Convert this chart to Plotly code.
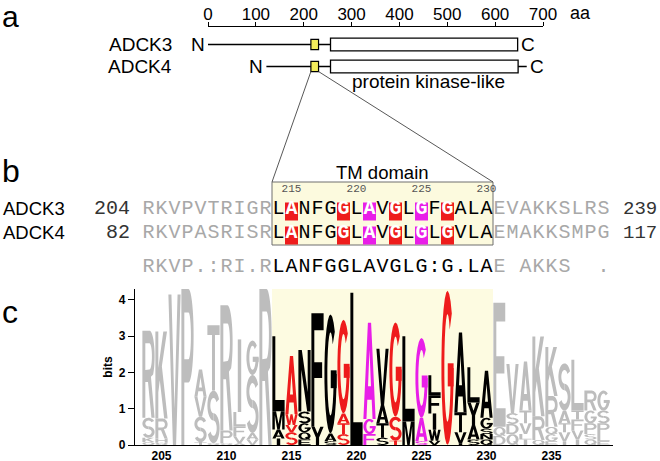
import math
import plotly.graph_objects as go

W, H = 660, 461

# ---------------- data ----------------
proteins = ['ADCK3', 'ADCK4']
prot_length = [647, 544]
prot_offset = [0, 122]            # ADCK4 shifted so the TM domains line up
tm_start = [215, 93]
tm_end = [231, 109]
kinase_start = [256, 134]
kinase_end = [647, 526]
ruler_ticks = [0, 100, 200, 300, 400, 500, 600, 700]

seq_start = [204, 82]
seq_end = [239, 117]
seq_rows = ['RKVPVTRIGRLANFGGLAVGLGFGALAEVAKKSLRS',
            'RKVPASRISRLANFGGLAVGLGLGVLAEMAKKSMPG']
consensus = 'RKVP.:RI.RLANFGGLAVGLG:G.LAE AKKS  .'
tm_first, tm_last = 214, 230
pos_labels = [215, 220, 225, 230]
highlight = {215: 'red', 219: 'red', 221: 'magenta', 223: 'red', 225: 'magenta', 227: 'red'}

logo_pos = list(range(204, 240))
logo_letters = ['QKSR', 'QHRK', 'V', 'P', 'TSVA', 'QST', 'QPR', 'AVFLI', 'VASG', 'R',
                'IAML', 'SVWA', 'EQGSN', 'YF', 'SAG', 'STAG', 'L', 'FGA', 'STAV', 'TSG',
                'ML', 'SAG', 'VWIFL', 'G', 'IVTA', 'SAYL', 'QNSGA',
                'DQE', 'QDSV', 'ILVTA', 'QRK', 'EGQRK', 'IVTAS', 'IVFTL', 'QSPGR', 'ELPSG']
logo_bits = [[0.08, 0.12, 0.55, 2.4], [0.06, 0.12, 0.55, 2.4], [4.15], [4.3],
             [0.08, 0.7, 0.55, 0.75], [0.05, 1.45, 1.8], [0.05, 0.35, 3.45],
             [0.05, 0.18, 0.28, 0.4, 2.0], [0.15, 0.18, 1.6, 0.95], [4.3],
             [0.18, 0.25, 0.5, 2.07], [0.35, 0.2, 0.3, 1.6], [0.15, 0.2, 0.25, 0.32, 1.7],
             [0.5, 3.13], [0.1, 0.22, 3.28], [0.3, 0.3, 0.27, 2.58], [4.2], [0.3, 0.42, 2.65],
             [0.2, 0.4, 0.5, 1.55], [0.12, 0.66, 2.6], [0.65, 2.35], [0.1, 0.65, 2.2],
             [0.12, 0.3, 0.45, 0.5, 0.55], [4.25], [0.05, 0.3, 0.55, 2.2],
             [0.15, 0.4, 0.62, 0.97], [0.15, 0.15, 0.15, 0.3, 1.3],
             [0.25, 0.25, 3.42], [0.3, 0.28, 0.3, 1.35], [0.15, 0.15, 0.3, 0.35, 1.35],
             [0.14, 0.65, 2.2], [0.1, 0.2, 0.2, 0.85, 1.35], [0.1, 0.25, 0.25, 0.35, 1.3],
             [0.15, 0.25, 0.3, 0.25, 1.4], [0.15, 0.15, 0.3, 0.35, 0.55],
             [0.1, 0.2, 0.3, 0.35, 0.55]]

RED, MAGENTA, GREY, TXTGREY = '#ee1c1c', '#e81ee8', '#bdbdbd', '#a8a8a8'
COLORS = {'red': RED, 'magenta': MAGENTA}


# ---------------- letter outlines (unit box) ----------------
def ell(cx, cy, rx, ry, a0, a1, n=22):
    return [(cx + rx * math.cos(math.radians(a0 + (a1 - a0) * k / n)),
             cy + ry * math.sin(math.radians(a0 + (a1 - a0) * k / n))) for k in range(n + 1)]


def band(cx, cy, rx, ry, tx, ty, a0, a1):
    return ell(cx, cy, rx, ry, a0, a1) + ell(cx, cy, rx - tx, ry - ty, a1, a0)


SX, SY = 0.24, 0.15
O_RING = [ell(0.5, 0.5, 0.5, 0.5, 0, 360), ell(0.5, 0.5, 0.26, 0.35, 0, 360)]
GLYPHS = {
    'A': [[[(0, 0), (0.25, 0), (0.32, 0.2), (0.68, 0.2), (0.75, 0), (1, 0), (0.63, 1), (0.37, 1)],
           [(0.38, 0.34), (0.62, 0.34), (0.5, 0.72)]]],
    'C': [[band(0.5, 0.5, 0.5, 0.5, SX, SY, 45, 315)]],
    'D': [[[(0, 0), (0.45, 0)] + ell(0.45, 0.5, 0.55, 0.5, -90, 90) + [(0, 1)],
           [(SX, SY), (0.45, SY)] + ell(0.45, 0.5, 0.31, 0.35, -90, 90) + [(SX, 1 - SY)]]],
    'E': [[[(0, 0), (1, 0), (1, SY), (SX, SY), (SX, 0.43), (0.9, 0.43), (0.9, 0.57), (SX, 0.57),
            (SX, 1 - SY), (0.97, 1 - SY), (0.97, 1), (0, 1)]]],
    'F': [[[(0, 0), (SX, 0), (SX, 0.43), (0.88, 0.43), (0.88, 0.57), (SX, 0.57),
            (SX, 1 - SY), (1, 1 - SY), (1, 1), (0, 1)]]],
    'G': [[band(0.5, 0.5, 0.5, 0.5, SX, SY, 45, 360)],
          [[(0.52, 0.38), (1, 0.38), (1, 0.53), (0.52, 0.53)]]],
    'H': [[[(0, 0), (SX, 0), (SX, 0.43), (1 - SX, 0.43), (1 - SX, 0), (1, 0), (1, 1), (1 - SX, 1),
            (1 - SX, 0.58), (SX, 0.58), (SX, 1), (0, 1)]]],
    'I': [[[(0.36, 0), (0.64, 0), (0.64, 1), (0.36, 1)]]],
    'K': [[[(0, 0), (SX, 0), (SX, 0.3), (0.36, 0.44), (0.72, 0), (1, 0), (0.53, 0.6), (0.95, 1),
            (0.65, 1), (SX, 0.58), (SX, 1), (0, 1)]]],
    'L': [[[(0, 0), (1, 0), (1, SY), (SX, SY), (SX, 1), (0, 1)]]],
    'M': [[[(0, 0), (0.2, 0), (0.2, 0.78), (0.4, 0), (0.6, 0), (0.8, 0.78), (0.8, 0), (1, 0),
            (1, 1), (0.7, 1), (0.5, 0.3), (0.3, 1), (0, 1)]]],
    'N': [[[(0, 0), (SX, 0), (SX, 0.68), (0.72, 0), (1, 0), (1, 1), (1 - SX, 1), (1 - SX, 0.32),
            (0.28, 1), (0, 1)]]],
    'O': [O_RING],
    'P': [[[(0, 0), (SX, 0), (SX, 0.4)] + ell(0.58, 0.7, 0.42, 0.3, -90, 90) + [(0, 1)],
           [(SX, 0.55)] + ell(0.58, 0.7, 0.2, 0.15, -90, 90) + [(SX, 0.85)]]],
    'Q': [O_RING, [[(0.52, 0.3), (0.68, 0.37), (1.0, 0.04), (0.86, 0.0)]]],
    'R': [[[(0, 0), (SX, 0), (SX, 0.41), (0.46, 0.41), (0.74, 0), (1, 0), (0.7, 0.47)]
           + ell(0.58, 0.705, 0.42, 0.295, -45, 90) + [(0, 1)],
           [(SX, 0.55)] + ell(0.58, 0.705, 0.2, 0.15, -90, 90) + [(SX, 0.855)]]],
    'S': [[band(0.5, 0.715, 0.5, 0.285, SX, 0.14, 25, 270)],
          [band(0.5, 0.285, 0.5, 0.285, SX, 0.14, 90, -155)]],
    'T': [[[(0, 1), (1, 1), (1, 1 - SY), (0.5 + SX / 2, 1 - SY), (0.5 + SX / 2, 0),
            (0.5 - SX / 2, 0), (0.5 - SX / 2, 1 - SY), (0, 1 - SY)]]],
    'V': [[[(0, 1), (0.37, 0), (0.63, 0), (1, 1), (0.75, 1), (0.5, 0.24), (0.25, 1)]]],
    'W': [[[(0, 1), (0.2, 0), (0.4, 0), (0.5, 0.55), (0.6, 0), (0.8, 0), (1, 1), (0.8, 1),
            (0.69, 0.38), (0.58, 1), (0.42, 1), (0.31, 0.38), (0.2, 1)]]],
    'Y': [[[(0.37, 0), (0.63, 0), (0.63, 0.42), (1, 1), (0.73, 1), (0.5, 0.64), (0.27, 1),
            (0, 1), (0.37, 0.42)]]],
}


def glyph_paths(letter, x0, x1, y0, y1):
    out = []
    for comp in GLYPHS[letter]:
        parts = []
        for ring in comp:
            pts = ['%.4f,%.4f' % (x0 + u * (x1 - x0), y0 + v * (y1 - y0)) for u, v in ring]
            parts.append('M' + ' L'.join(pts) + ' Z')
        out.append(' '.join(parts))
    return out


def col_color(p):
    if p < tm_first or p > tm_last:
        return GREY
    return COLORS.get(highlight.get(p), 'black')


# ---------------- geometry helpers (pixel layout) ----------------
A_X0, A_X1 = 208, 543          # ruler pixels for 0 and 700 aa
A_TOP, A_BOT, A_ROW0, A_STEP = 27, 100, 44.5, 22
B_X0, B_X1 = 135, 613          # logo / alignment x axis
B_R0 = 204 + (B_X0 - 148.5) / 13
B_R1 = 204 + (B_X1 - 148.5) / 13
B_TOP, B_BOT, B_ROW0, B_STEP = 150, 280, 208.5, 24


def py(p):
    return 1 - p / H


def ax_a(aa):
    return (A_X0 + aa * (A_X1 - A_X0) / 700) / W


def ax_b(pos):
    return (148.5 + (pos - 204) * 13) / W


def brow(pix):
    return (pix - B_ROW0) / B_STEP


fig = go.Figure()
shapes, annos = [], []
SANS, MONO = 'Liberation Sans, Arial', 'Liberation Mono, Courier New'

# ---------------- panel a ----------------
for i, name in enumerate(proteins):
    off = prot_offset[i]
    fig.add_trace(go.Scatter(x=[off, off + prot_length[i]], y=[i, i], mode='lines',
                             line=dict(color='black', width=1.3), xaxis='x', yaxis='y',
                             hoverinfo='skip'))
    shapes.append(dict(type='rect', xref='x', yref='y', x0=off + kinase_start[i], x1=off + kinase_end[i],
                       y0=i - 0.29, y1=i + 0.29, fillcolor='white', line=dict(color='black', width=1.3)))
    shapes.append(dict(type='rect', xref='x', yref='y', x0=off + tm_start[i], x1=off + tm_end[i],
                       y0=i - 0.23, y1=i + 0.23, fillcolor='#f3ec5c', line=dict(color='black', width=1.2)))
    annos.append(dict(x=off, y=i, xref='x', yref='y', text='N', showarrow=False, xanchor='right',
                      xshift=-1, font=dict(family=SANS, size=19, color='black')))
    annos.append(dict(x=off + prot_length[i], y=i, xref='x', yref='y', text='C', showarrow=False,
                      xanchor='left', xshift=1, font=dict(family=SANS, size=19, color='black')))
    annos.append(dict(x=174 / W, y=i, xref='paper', yref='y', text=name, showarrow=False,
                      xanchor='right', font=dict(family=SANS, size=19, color='black')))
annos.append(dict(x=prot_offset[1] + (kinase_start[1] + kinase_end[1]) / 2, y=(82 - A_ROW0) / A_STEP,
                  xref='x', yref='y', xshift=4, text='protein kinase-like', showarrow=False,
                  font=dict(family=SANS, size=19, color='black')))
annos.append(dict(x=568 / W, y=py(13), xref='paper', yref='paper', text='aa', showarrow=False,
                  xanchor='left', yanchor='middle', font=dict(family=SANS, size=18, color='black')))

# ---------------- panel b ----------------
ROW_Y = [0, 1]
CONS_Y = brow(266.5)
tm_box_top, tm_box_bot = brow(182), brow(245)
shapes.append(dict(type='rect', xref='x2', yref='y2', x0=tm_first - 0.5, x1=tm_last + 0.5,
                   y0=tm_box_top, y1=tm_box_bot, fillcolor='#fcfade', line=dict(color='#6e6e6e', width=1),
                   layer='below'))
# zoom lines from the ADCK4 TM box down to the TM box of the alignment
y_a_bot = py(A_ROW0 + (1 + 0.23) * A_STEP)
for xa, xb in [(ax_a(prot_offset[1] + tm_start[1]), ax_b(tm_first - 0.5)),
               (ax_a(prot_offset[1] + tm_end[1]), ax_b(tm_last + 0.5))]:
    shapes.append(dict(type='line', xref='paper', yref='paper', x0=xa, y0=y_a_bot, x1=xb, y1=py(182),
                       line=dict(color='#444444', width=0.9)))
annos.append(dict(x=(tm_first + tm_last) / 2, y=brow(172), xref='x2', yref='y2', text='TM domain',
                  showarrow=False, font=dict(family=SANS, size=18.5, color='black')))

for r, seq in enumerate(seq_rows):
    cols, hx, hy, ht = [], [], [], []
    for p, ch in zip(logo_pos, seq):
        if p in highlight:
            shapes.append(dict(type='rect', xref='x2', yref='y2', x0=p - 0.5, x1=p + 0.5,
                               y0=ROW_Y[r] - 0.25, y1=ROW_Y[r] + 0.5, fillcolor=COLORS[highlight[p]],
                               line=dict(width=0), layer='below'))
            cols.append('rgba(0,0,0,0)')
            hx.append(p); hy.append(ROW_Y[r]); ht.append(ch)
        else:
            cols.append('black' if tm_first <= p <= tm_last else TXTGREY)
    fig.add_trace(go.Scatter(x=logo_pos, y=[ROW_Y[r]] * len(seq), text=list(seq), mode='text',
                             textfont=dict(family=MONO, size=20, color=cols), xaxis='x2', yaxis='y2',
                             hoverinfo='skip'))
    fig.add_trace(go.Scatter(x=hx, y=hy, text=ht, mode='text',
                             textfont=dict(family=MONO, size=20, color='white', weight='bold'),
                             xaxis='x2', yaxis='y2', hoverinfo='skip'))
    annos.append(dict(x=1 / W, y=ROW_Y[r], xref='paper', yref='y2', text=proteins[r], showarrow=False,
                      xanchor='left', font=dict(family=SANS, size=18.5, color='black')))
    annos.append(dict(x=logo_pos[0] - 0.5, y=ROW_Y[r], xref='x2', yref='y2', text=str(seq_start[r]),
                      showarrow=False, xanchor='right', xshift=-10, font=dict(family=MONO, size=20, color='#333333')))
    annos.append(dict(x=logo_pos[-1] + 0.5, y=ROW_Y[r], xref='x2', yref='y2', text=str(seq_end[r]),
                      showarrow=False, xanchor='left', xshift=11, font=dict(family=MONO, size=19, color='#333333')))

fig.add_trace(go.Scatter(x=logo_pos, y=[CONS_Y] * len(consensus), text=list(consensus), mode='text',
                         textfont=dict(family=MONO, size=20,
                                       color=['black' if tm_first <= p <= tm_last else TXTGREY for p in logo_pos]),
                         xaxis='x2', yaxis='y2', hoverinfo='skip'))
fig.add_trace(go.Scatter(x=pos_labels, y=[brow(189)] * len(pos_labels), text=[str(v) for v in pos_labels],
                         mode='text', textfont=dict(family=MONO, size=11, color='#555555'),
                         xaxis='x2', yaxis='y2', hoverinfo='skip'))

# ---------------- panel c: sequence logo ----------------
shapes.append(dict(type='rect', xref='x2', yref='y3', x0=tm_first - 0.5, x1=tm_last + 0.5, y0=0, y1=4.3,
                   fillcolor='#fdfbe1', line=dict(width=0), layer='below'))
for p, letters, bits in zip(logo_pos, logo_letters, logo_bits):
    y0 = 0.0
    c = col_color(p)
    for ch, h in zip(letters, bits):
        for path in glyph_paths(ch, p - 0.47, p + 0.47, y0, y0 + h):
            shapes.append(dict(type='path', path=path, xref='x2', yref='y3', fillcolor=c,
                               line=dict(width=0), layer='above'))
        y0 += h
fig.add_trace(go.Scatter(x=[], y=[], xaxis='x2', yaxis='y3'))

# panel letters ('a' sits on the top edge, so anchor it there)
annos.append(dict(x=0, y=1, xref='paper', yref='paper', text='a', showarrow=False,
                  xanchor='left', yanchor='top', yshift=2, font=dict(family=SANS, size=30, color='black')))
for t, yy in [('b', 171), ('c', 312)]:
    annos.append(dict(x=0, y=py(yy), xref='paper', yref='paper', text=t, showarrow=False,
                      xanchor='left', yanchor='middle', font=dict(family=SANS, size=32, color='black')))

fig.update_layout(
    width=W, height=H, margin=dict(l=0, r=0, t=0, b=0, autoexpand=False), showlegend=False,
    paper_bgcolor='white', plot_bgcolor='rgba(0,0,0,0)',
    xaxis=dict(domain=[A_X0 / W, A_X1 / W], range=[0, 700], anchor='y', side='top', automargin=False,
               tickvals=ruler_ticks, ticks='outside', ticklen=4, tickwidth=1.2, tickcolor='black',
               ticklabelstandoff=-5,
               showline=True, linecolor='black', linewidth=1.2, showgrid=False, zeroline=False,
               tickfont=dict(family=SANS, size=17, color='black')),
    yaxis=dict(domain=[py(A_BOT), py(A_TOP)], automargin=False,
               range=[(A_BOT - A_ROW0) / A_STEP, (A_TOP - A_ROW0) / A_STEP], visible=False, anchor='x'),
    xaxis2=dict(domain=[B_X0 / W, B_X1 / W], range=[B_R0, B_R1], anchor='y3', automargin=False,
                tickvals=[205, 210, 215, 220, 225, 230, 235], ticks='', showline=True,
                ticklabelstandoff=-1,
                linecolor='black', linewidth=1.2, showgrid=False, zeroline=False,
                tickfont=dict(family=SANS, size=12, color='black', weight='bold')),
    yaxis2=dict(domain=[py(B_BOT), py(B_TOP)], range=[brow(B_BOT), brow(B_TOP)], visible=False,
                anchor='x2', automargin=False),
    yaxis3=dict(domain=[py(445), py(289)], range=[0, 4.3], anchor='x2', tickvals=[0, 1, 2, 3, 4],
                automargin=False,
                ticks='outside', ticklen=6, tickwidth=1.2, tickcolor='black', showline=True,
                linecolor='black', linewidth=1.2, showgrid=False, zeroline=False,
                tickfont=dict(family=SANS, size=12, color='black', weight='bold'),
                title=dict(text='bits', standoff=3, font=dict(family=SANS, size=12, color='black', weight='bold'))),
    shapes=shapes, annotations=annos,
)

# the page's default body margin would push the 660x461 figure off the window
fig.write_html('out.html', config={'displayModeBar': False},
               post_script="document.body.style.margin='0px';")
